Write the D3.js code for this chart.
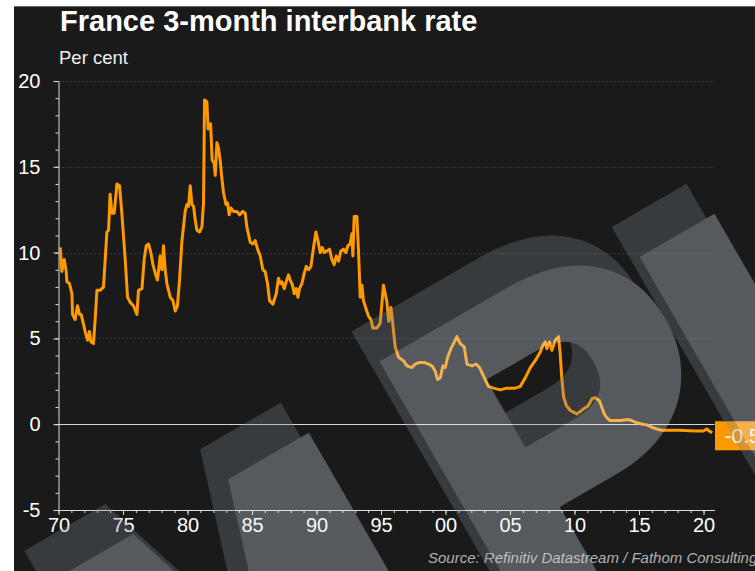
<!DOCTYPE html>
<html><head><meta charset="utf-8">
<script src="https://cdn.jsdelivr.net/npm/d3@7"></script>
<style>html,body{margin:0;padding:0;background:#fff;} svg{display:block;}</style>
</head><body>
<svg id="chart" width="755" height="571"></svg>
<script>
// ---- data ----
const years = [1970.13,1970.26,1970.44,1970.60,1970.65,1970.85,1971.04,1971.09,1971.29,1971.47,1971.63,1971.76,
1972.07,1972.25,1972.40,1972.51,1972.71,1972.84,1972.98,1973.23,1973.49,1973.75,1973.88,1974.00,1974.14,1974.32,
1974.53,1974.73,1974.91,1975.17,1975.35,1975.56,1975.81,1976.08,1976.20,1976.47,1976.64,1976.80,1976.98,1977.16,
1977.32,1977.50,1977.67,1977.88,1978.02,1978.14,1978.27,1978.40,1978.66,1978.87,1979.05,1979.22,1979.38,1979.57,
1979.82,1979.95,1980.08,1980.21,1980.34,1980.47,1980.60,1980.73,1980.93,1981.12,1981.24,1981.32,1981.50,1981.60,
1981.79,1981.91,1982.07,1982.15,1982.28,1982.40,1982.53,1982.64,1982.79,1982.98,1983.10,1983.23,1983.36,1983.57,
1983.83,1984.03,1984.29,1984.47,1984.60,1984.86,1985.07,1985.25,1985.43,1985.64,1985.84,1986.02,1986.20,1986.36,
1986.62,1986.88,1987.05,1987.19,1987.32,1987.50,1987.65,1987.83,1987.96,1988.14,1988.27,1988.43,1988.56,1988.68,
1988.87,1989.05,1989.20,1989.38,1989.57,1989.77,1989.95,1990.08,1990.29,1990.44,1990.60,1990.81,1991.01,1991.19,
1991.37,1991.53,1991.71,1991.89,1992.09,1992.28,1992.43,1992.61,1992.74,1992.82,1992.92,1993.13,1993.26,1993.39,
1993.52,1993.64,1993.85,1994.03,1994.22,1994.37,1994.68,1994.94,1995.19,1995.46,1995.60,1995.77,1995.89,1996.10,
1996.36,1996.74,1997.01,1997.40,1997.65,1997.98,1998.35,1998.68,1998.95,1999.20,1999.38,1999.59,1999.80,1999.98,
2000.16,2000.42,2000.62,2000.88,2001.14,2001.45,2001.66,2002.05,2002.38,2002.64,2002.95,2003.33,2003.72,2004.24,
2004.76,2005.40,2005.79,2006.18,2006.57,2006.95,2007.34,2007.55,2007.73,2007.86,2008.06,2008.25,2008.50,2008.76,
2008.88,2009.00,2009.15,2009.36,2009.67,2010.18,2010.55,2010.70,2011.03,2011.22,2011.37,2011.60,2011.94,2012.29,
2012.45,2012.76,2013.54,2014.16,2014.47,2014.84,2015.27,2015.61,2015.90,2016.26,2016.72,2018.12,2019.36,2019.98,
2020.25,2020.44,2020.67];
const rates = [10.3,8.9,9.6,8.9,8.3,8.2,7.6,6.4,6.1,6.9,6.4,6.4,
5.4,4.9,5.4,4.8,4.7,6.1,7.8,7.8,8.0,11.2,11.3,13.4,12.3,12.3,
14.0,13.9,12.3,9.6,7.4,7.1,6.9,6.4,7.8,7.9,9.6,10.4,10.5,10.0,
9.3,8.8,8.4,9.8,9.0,10.4,9.0,8.2,7.4,7.2,6.6,6.9,8.4,10.7,
12.4,12.8,12.7,13.9,12.8,12.7,11.9,11.3,11.2,11.5,12.9,18.9,18.8,17.2,
17.5,15.4,15.2,14.5,16.4,16.1,15.4,14.5,13.5,12.8,12.9,12.2,12.6,12.4,
12.4,12.2,12.4,12.3,11.5,10.6,10.5,10.7,10.2,9.8,9.0,8.9,8.2,7.2,
7.0,7.6,8.5,8.2,8.3,7.9,8.3,8.7,8.4,8.1,7.6,7.9,7.4,7.9,
8.2,8.8,9.2,9.0,9.2,10.3,11.2,10.8,10.0,10.3,10.0,10.1,10.2,9.6,
9.3,9.8,9.5,10.1,10.2,10.0,10.4,10.5,11.1,9.8,12.1,12.1,10.0,7.4,
8.1,7.2,6.7,6.3,6.1,5.6,5.6,5.9,8.1,7.1,6.0,6.8,6.0,4.5,
3.9,3.7,3.4,3.3,3.5,3.6,3.6,3.5,3.4,3.1,2.6,2.7,3.4,3.3,
3.9,4.4,4.7,5.1,4.7,4.5,3.5,3.4,3.5,3.3,2.8,2.2,2.1,2.0,
2.1,2.1,2.2,2.7,3.3,3.7,4.2,4.6,4.8,4.4,4.8,4.3,4.9,5.1,
4.2,2.8,1.6,1.1,0.8,0.6,0.8,0.9,1.05,1.3,1.5,1.55,1.35,0.62,
0.43,0.21,0.21,0.28,0.2,0.08,0.0,-0.04,-0.15,-0.25,-0.35,-0.35,-0.4,-0.4,
-0.28,-0.4,-0.5];
const yMajorTicks = [-5,0,5,10,15,20];
const xMajorTicks = [1970,1975,1980,1985,1990,1995,2000,2005,2010,2015,2020];
const xTickLabels = ["70","75","80","85","90","95","00","05","10","15","20"];
const titleText = "France 3-month interbank rate";
const unitText = "Per cent";
const sourceText = "Source: Refinitiv Datastream / Fathom Consulting";
const watermarkLetters = ["M","P","I"];

// ---- drawing ----
const FONT = "'Liberation Sans', Arial, Helvetica, sans-serif";
const ORANGE = "#ff9900";
const svg = d3.select("#chart").style("font-family", FONT);

svg.append("rect").attr("x",14).attr("y",6).attr("width",741).attr("height",565).attr("fill","#1a1a1a");
svg.append("line").attr("x1",14).attr("x2",755).attr("y1",6.5).attr("y2",6.5).attr("stroke","#666").attr("stroke-width",1);

const x = d3.scaleLinear().domain([1970, 2020.85]).range([58.5, 714.5]);
const y = d3.scaleLinear().domain([-5, 20]).range([510, 81]);
const data = years.map((yr,i)=>({yr, v:rates[i]}));

// grid
svg.append("g").selectAll("line").data(yMajorTicks.filter(d=>d>0)).join("line")
  .attr("x1",x.range()[0]).attr("x2",x.range()[1])
  .attr("y1",d=>Math.round(y(d))+0.5).attr("y2",d=>Math.round(y(d))+0.5)
  .attr("stroke","#3c3c3c").attr("stroke-width",1).attr("stroke-dasharray","2,2");

// y axis minor + major
const yMinor = svg.append("g").attr("transform",`translate(${x.range()[0]},0)`)
  .call(d3.axisLeft(y).tickValues(d3.range(-5,21)).tickSize(3).tickSizeOuter(0).tickFormat(""));
const yMajor = svg.append("g").attr("transform",`translate(${x.range()[0]},0)`)
  .call(d3.axisLeft(y).tickValues(yMajorTicks).tickSize(5).tickPadding(13).tickFormat(d3.format("d")));
yMajor.select(".domain").remove();
[yMinor,yMajor].forEach(g=>{g.selectAll("line,path").attr("stroke","#ddd");});
yMajor.selectAll("text").attr("fill","#fff").style("font-size","20px").style("font-family",FONT)
  .text(d=>String(d));

// x axis
const xMinor = svg.append("g").attr("transform",`translate(0,${y(-5)})`)
  .call(d3.axisBottom(x).tickValues(d3.range(1970,2021)).tickSize(3).tickSizeOuter(0).tickFormat(""));
const xMajor = svg.append("g").attr("transform",`translate(0,${y(-5)})`)
  .call(d3.axisBottom(x).tickValues(xMajorTicks).tickSize(5).tickPadding(3).tickFormat((d,i)=>xTickLabels[i]));
xMajor.select(".domain").remove();
[xMinor,xMajor].forEach(g=>{g.selectAll("line,path").attr("stroke","#ddd");});
xMajor.selectAll("text").attr("fill","#fff").style("font-size","20px").style("font-family",FONT);

// zero line
svg.append("line").attr("x1",x.range()[0]).attr("x2",x.range()[1])
  .attr("y1",Math.round(y(0))+0.5).attr("y2",Math.round(y(0))+0.5)
  .attr("stroke","#d8d8d8").attr("stroke-width",1.2);

// series line
const line = d3.line().x(d=>x(d.yr)).y(d=>y(d.v)).curve(d3.curveLinear);
svg.append("path").datum(data).attr("d",line).attr("fill","none")
  .attr("stroke",ORANGE).attr("stroke-width",3).attr("stroke-linejoin","round");

// last value label
const last = data[data.length-1];
const ly = y(last.v)+3;
svg.append("rect").attr("x",x.range()[1]+0.5).attr("y",ly-14.5).attr("width",60).attr("height",29).attr("fill",ORANGE);
svg.append("text").attr("x",x.range()[1]+10).attr("y",ly+7.5).attr("fill","#fff")
  .style("font-size","21px").text(d3.format(".1f")(last.v).replace("\u2212","-"));

// titles
svg.append("text").attr("x",60).attr("y",31).attr("fill","#fff").style("font-size","29px").style("font-weight","bold").text(titleText);
svg.append("text").attr("x",59).attr("y",64).attr("fill","#f0f0f0").style("font-size","18.5px").text(unitText);
svg.append("text").attr("x",428).attr("y",563).attr("fill","#b0b0b0").style("font-size","15px").style("font-style","italic").text(sourceText);

// watermark (semi-transparent overlay, shadow + face)
const wmPlace = [
  {tx:179, ty:833, fs:395},
  {tx:519, ty:642, fs:440},
  {tx:785, ty:550, fs:460}
];
const wm = svg.append("g").attr("opacity",0.3).style("pointer-events","none");
[{dx:-28,dy:-30,c:"rgb(126,136,146)"},{dx:0,dy:0,c:"rgb(223,236,246)"}].forEach(layer=>{
  watermarkLetters.forEach((ch,i)=>{
    const p = wmPlace[i];
    wm.append("text").attr("transform",`translate(${p.tx+layer.dx},${p.ty+layer.dy}) rotate(-30)`)
      .attr("fill",layer.c).attr("stroke",layer.c).attr("stroke-width",20).attr("stroke-linejoin","miter")
      .style("font-size",p.fs+"px").style("font-weight","bold").text(ch);
  });
});
</script>
</body></html>
